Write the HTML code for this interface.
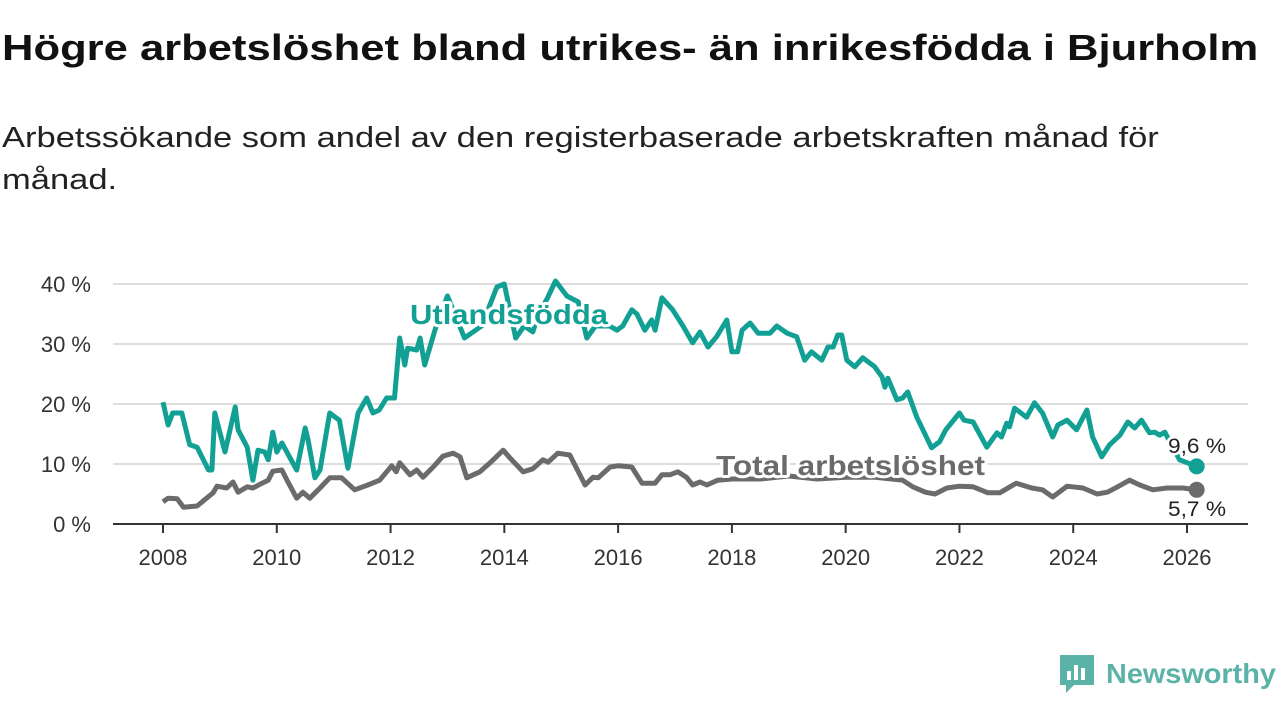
<!DOCTYPE html>
<html><head><meta charset="utf-8"><style>
body{margin:0;background:#fff;width:1280px;height:720px;overflow:hidden;font-family:"Liberation Sans","DejaVu Sans",sans-serif}
h1{position:absolute;left:2px;top:27px;margin:0;font-size:36px;font-weight:bold;color:#111;white-space:nowrap;transform:scaleX(1.21);transform-origin:0 0}
.sub{position:absolute;left:2px;top:117px;margin:0;font-size:29px;color:#222;line-height:42px;width:1000px;transform:scaleX(1.19);transform-origin:0 0}
svg{position:absolute;left:0;top:0}
</style></head><body>
<h1>Högre arbetslöshet bland utrikes- än inrikesfödda i Bjurholm</h1>
<p class="sub">Arbetssökande som andel av den registerbaserade arbetskraften månad för månad.</p>
<svg id="chart" width="1280" height="720"></svg>
<script>
const yTicks=[0,10,20,30,40];
const xTicks=[2008,2010,2012,2014,2016,2018,2020,2022,2024,2026];
const foreignX=[2008.0,2008.09,2008.17,2008.33,2008.47,2008.6,2008.8,2008.86,2008.91,2009.09,2009.27,2009.32,2009.48,2009.58,2009.67,2009.79,2009.85,2009.93,2010.0,2010.09,2010.35,2010.5,2010.55,2010.67,2010.76,2010.93,2011.1,2011.25,2011.43,2011.58,2011.69,2011.8,2011.93,2012.07,2012.16,2012.25,2012.3,2012.46,2012.52,2012.6,2012.78,2013.0,2013.3,2013.6,2013.87,2014.0,2014.2,2014.35,2014.5,2014.6,2014.75,2014.9,2015.1,2015.3,2015.45,2015.6,2015.85,2015.98,2016.08,2016.24,2016.33,2016.47,2016.59,2016.65,2016.77,2016.96,2017.14,2017.31,2017.44,2017.58,2017.73,2017.91,2018.0,2018.1,2018.18,2018.32,2018.46,2018.67,2018.79,2018.97,2019.14,2019.28,2019.4,2019.58,2019.69,2019.78,2019.86,2019.93,2020.02,2020.16,2020.3,2020.51,2020.64,2020.69,2020.74,2020.9,2021.0,2021.09,2021.25,2021.51,2021.65,2021.76,2022.0,2022.08,2022.24,2022.48,2022.66,2022.74,2022.83,2022.88,2022.97,2023.18,2023.32,2023.46,2023.64,2023.73,2023.89,2024.06,2024.24,2024.34,2024.5,2024.64,2024.82,2024.96,2025.08,2025.2,2025.34,2025.43,2025.52,2025.61,2025.87,2026.17];
const foreignY=[20.3,16.5,18.5,18.5,13.2,12.8,9,9,18.5,12,19.5,15.7,12.8,7.3,12.3,12,10.7,15.3,12,13.5,9,16,14,7.7,9,18.5,17.3,9.3,18.5,21,18.5,19,21,21,31,26.5,29.3,29,31,26.5,32.3,38,31,33,39.5,40,31,33,32,35,37.5,40.5,38,37,31,33,33,32.3,33,35.7,35,32.3,34,32.3,37.7,35.7,33,30.2,32,29.5,31.2,34,28.7,28.7,32.3,33.5,31.8,31.8,33,31.8,31.2,27.3,28.7,27.3,29.5,29.5,31.5,31.5,27.3,26.2,27.7,26.2,24.5,22.8,24.3,20.7,21,22,17.8,12.7,13.7,15.7,18.5,17.3,17,12.8,15.2,14.5,16.8,16.2,19.3,17.8,20.2,18.5,14.5,16.5,17.3,15.7,19,14.5,11.2,13.2,14.8,17,16,17.3,15.2,15.3,14.8,15.3,10.7,9.6];
const totalX=[2008.0,2008.09,2008.25,2008.36,2008.6,2008.88,2008.95,2009.12,2009.23,2009.32,2009.48,2009.58,2009.74,2009.85,2009.93,2010.09,2010.18,2010.35,2010.46,2010.58,2010.76,2010.93,2011.14,2011.37,2011.6,2011.81,2012.02,2012.1,2012.16,2012.34,2012.46,2012.57,2012.75,2012.92,2013.1,2013.22,2013.34,2013.57,2013.75,2013.98,2014.1,2014.33,2014.5,2014.68,2014.77,2014.94,2015.15,2015.42,2015.56,2015.65,2015.86,2016.0,2016.24,2016.42,2016.65,2016.77,2016.91,2017.05,2017.2,2017.31,2017.44,2017.56,2017.75,2018.0,2018.5,2019.0,2019.5,2020.0,2020.5,2021.0,2021.18,2021.4,2021.57,2021.78,2022.0,2022.24,2022.5,2022.71,2023.0,2023.27,2023.46,2023.64,2023.89,2024.17,2024.42,2024.6,2024.78,2024.99,2025.17,2025.4,2025.65,2025.93,2026.17];
const totalY=[3.7,4.3,4.2,2.8,3,5.2,6.3,6,7,5.3,6.2,6,6.8,7.3,8.8,9,7.3,4.3,5.3,4.3,6,7.7,7.7,5.7,6.5,7.3,9.7,8.7,10.2,8.2,9,7.8,9.5,11.3,11.8,11.2,7.7,8.7,10.2,12.3,11,8.7,9.2,10.7,10.3,11.8,11.5,6.5,7.8,7.7,9.5,9.7,9.5,6.8,6.8,8.2,8.2,8.7,7.8,6.5,7,6.5,7.3,7.5,7.5,8,7.5,7.8,7.8,7.3,6.2,5.3,5,6,6.3,6.2,5.2,5.2,6.8,6,5.7,4.5,6.3,6,5,5.3,6.2,7.3,6.5,5.7,6,6,5.7];
const svg=document.getElementById('chart');const NS='http://www.w3.org/2000/svg';
const X=v=>163+(v-2008)*(1187-163)/18, Y=v=>524-v*6;
function mk(t,a,p){const e=document.createElementNS(NS,t);for(const k in a)e.setAttribute(k,a[k]);(p||svg).appendChild(e);return e;}
yTicks.forEach(t=>{
 const g=mk('line',{x1:113,x2:1248,y1:Y(t),y2:Y(t),stroke:t?'#ddd':'#333','stroke-width':2});
 
 
 const l=mk('text',{x:91,y:Y(t)+8,'text-anchor':'end','font-size':22,fill:'#333'});l.textContent=t+' %';
 
 
});
xTicks.forEach(t=>{
 const m=mk('line',{x1:X(t),x2:X(t),y1:524,y2:533,stroke:'#333','stroke-width':2});
 
 
 const l=mk('text',{x:X(t),y:565,'text-anchor':'middle','font-size':22,fill:'#333'});l.textContent=t;
 
 
});
function line(xs,ys,c,n){
 const d=xs.map((x,i)=>(i?'L':'M')+X(x).toFixed(1)+','+Y(ys[i]).toFixed(1)).join('');
 const p=mk('path',{d:d,fill:'none',stroke:c,'stroke-width':5,'stroke-linejoin':'round'});
 
 
 const c2=mk('circle',{cx:X(xs[xs.length-1]),cy:Y(ys[ys.length-1]),r:8,fill:c});
 
 
}
line(totalX,totalY,'#6b6b6d','total-line');
line(foreignX,foreignY,'#12a094','foreign-born-line');
function lab(x,y,txt,c,sz,bold,n,w){
 const a={x:x,y:y,'font-size':sz,'font-weight':bold?'bold':'normal',fill:c,stroke:'#fff','stroke-width':bold?6:5,'paint-order':'stroke','stroke-linejoin':'round'};
 if(w){a.textLength=w;a.lengthAdjust='spacingAndGlyphs';}
 const t=mk('text',a);
 t.textContent=txt;
 
 
}
lab(410,324,'Utlandsfödda','#12a094',28,true,'foreign-born-label',198);
lab(716,475,'Total arbetslöshet','#6b6b6d',28,true,'total-label',269);
lab(1168,453,'9,6 %','#222',21,false,'foreign-born-end-value',58);
lab(1168,516,'5,7 %','#222',21,false,'total-end-value',58);
</script>
<div style="position:absolute;left:1060px;top:655px;display:flex;align-items:center">
<svg width="34" height="38" viewBox="0 0 34 38" style="position:static"><path d="M0 0H34V30H14L6 38V30H0Z" fill="#5bb3a8"/><rect x="7" y="16" width="4" height="9" fill="#fff"/><rect x="14" y="10" width="4" height="15" fill="#fff"/><rect x="21" y="13" width="4" height="12" fill="#fff"/></svg>
<span style="font-size:28px;font-weight:bold;color:#5bb3a8;margin-left:12px;display:inline-block;transform:scaleX(1.03);transform-origin:0 50%">Newsworthy</span></div>
</body></html>
